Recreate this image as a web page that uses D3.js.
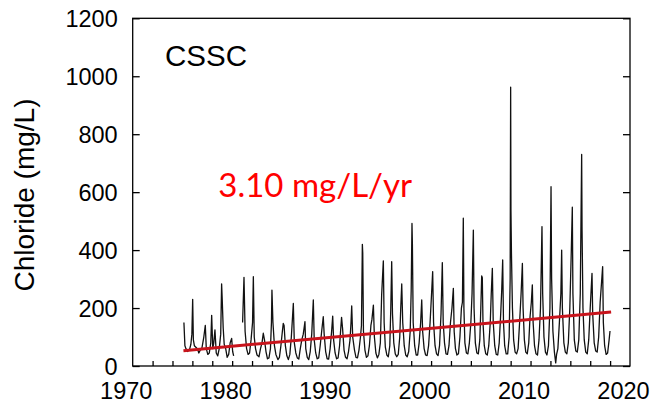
<!DOCTYPE html>
<html>
<head>
<meta charset="utf-8">
<script src="https://cdn.jsdelivr.net/npm/d3@7"></script>
<style>
  html, body { margin: 0; padding: 0; background: #fff; }
</style>
</head>
<body>
<div id="container"></div>
<script>
// data (decimal year, chloride mg/L); null = gap in record
let sampleYears = [
  1975.15, 1975.25, 1975.35, 1975.5, 1975.7, 1975.85, 1975.95,
  1976.03, 1976.1, 1976.2, 1976.35, 1976.5, 1976.65, 1976.8, 1976.95,
  1977.15, 1977.3, 1977.4, 1977.55, 1977.7, 1977.85, 1977.94,
  1978.05, 1978.15, 1978.27, 1978.4, 1978.55, 1978.7, 1978.85, 1978.94, 1979.0,
  1979.1, 1979.2, 1979.35, 1979.5, 1979.65, 1979.8, 1979.95, 1980.05, 1980.15,
  1980.6,
  1981.05, 1981.19, 1981.3, 1981.45, 1981.6, 1981.75, 1981.9, 1982.05,
  1982.13, 1982.22, 1982.35, 1982.5, 1982.7, 1982.85, 1983.0,
  1983.13, 1983.25, 1983.4, 1983.55, 1983.7, 1983.85, 1983.95,
  1984.0, 1984.1, 1984.25, 1984.4, 1984.6, 1984.75, 1984.9, 1985.05,
  1985.14, 1985.22, 1985.35, 1985.5, 1985.65, 1985.8, 1985.95,
  1986.15, 1986.25, 1986.4, 1986.55, 1986.7, 1986.85, 1987.0,
  1987.15, 1987.32, 1987.4, 1987.55, 1987.7, 1987.85, 1988.0,
  1988.16, 1988.25, 1988.4, 1988.55, 1988.7, 1988.85, 1989.0,
  1989.16, 1989.25, 1989.4, 1989.55, 1989.7, 1989.85, 1990.0,
  1990.11, 1990.2, 1990.35, 1990.5, 1990.65, 1990.8, 1990.92,
  1991.0, 1991.1, 1991.25, 1991.4, 1991.55, 1991.7, 1991.85, 1991.95,
  1992.02, 1992.12, 1992.3, 1992.45, 1992.6, 1992.75, 1992.9, 1993.0,
  1993.09, 1993.13, 1993.2, 1993.35, 1993.5, 1993.65, 1993.8, 1993.95,
  1994.05, 1994.2, 1994.3, 1994.45, 1994.6, 1994.75, 1994.9, 1995.03,
  1995.2, 1995.28, 1995.4, 1995.55, 1995.7, 1995.85, 1995.95,
  1996.04, 1996.12, 1996.25, 1996.4, 1996.55, 1996.7, 1996.85, 1996.95,
  1997.05, 1997.15, 1997.3, 1997.45, 1997.6, 1997.75, 1997.9, 1998.0,
  1998.08, 1998.12, 1998.2, 1998.35, 1998.5, 1998.65, 1998.8, 1998.95,
  1999.06, 1999.15, 1999.3, 1999.45, 1999.6, 1999.75, 1999.9, 2000.05,
  2000.16, 2000.25, 2000.4, 2000.55, 2000.7, 2000.85, 2001.0,
  2001.13, 2001.22, 2001.35, 2001.5, 2001.65, 2001.8, 2001.95, 2002.1,
  2002.24, 2002.32, 2002.45, 2002.6, 2002.75, 2002.9, 2003.05, 2003.15,
  2003.24, 2003.3, 2003.4, 2003.55, 2003.7, 2003.85, 2004.0, 2004.12,
  2004.25, 2004.32, 2004.45, 2004.6, 2004.75, 2004.9, 2005.0,
  2005.09, 2005.15, 2005.22, 2005.35, 2005.5, 2005.65, 2005.8, 2005.95, 2006.05,
  2006.16, 2006.25, 2006.4, 2006.55, 2006.7, 2006.85, 2007.0, 2007.1,
  2007.2, 2007.28, 2007.4, 2007.55, 2007.7, 2007.85, 2007.95,
  2008.0, 2008.03, 2008.08, 2008.18, 2008.3, 2008.45, 2008.6, 2008.75, 2008.9, 2009.05,
  2009.18, 2009.25, 2009.38, 2009.52, 2009.67, 2009.82, 2009.95, 2010.08,
  2010.18, 2010.26, 2010.4, 2010.55, 2010.7, 2010.85, 2011.0,
  2011.15, 2011.22, 2011.35, 2011.5, 2011.65, 2011.8, 2011.95,
  2012.06, 2012.12, 2012.25, 2012.4, 2012.53, 2012.62, 2012.75, 2012.9, 2013.05,
  2013.13, 2013.2, 2013.35, 2013.5, 2013.65, 2013.8, 2013.95, 2014.1,
  2014.2, 2014.26, 2014.4, 2014.55, 2014.7, 2014.85, 2015.0,
  2015.14, 2015.18, 2015.27, 2015.4, 2015.55, 2015.7, 2015.85, 2016.0,
  2016.18, 2016.25, 2016.4, 2016.55, 2016.7, 2016.85, 2017.0,
  2017.25, 2017.32, 2017.45, 2017.6, 2017.75, 2017.9, 2017.99
];
let chlorideValues = [
  150, 70, 60, 50, 55, 75, 110,
  230, 90, 70, 65, 60, 45, 55, 60,
  100, 140, 60, 40, 45, 80, 175,
  60, 80, 125, 45, 35, 60, 110, 283, 230,
  130, 75, 60, 30, 40, 80, 95, 50, 35,
  null,
  150, 306, 120, 60, 40, 45, 90, 150,
  308, 100, 60, 38, 32, 60, 80,
  113, 90, 50, 25, 28, 60, 150,
  262, 150, 70, 40, 22, 30, 70, 120,
  147, 140, 70, 35, 22, 40, 100,
  216, 80, 45, 28, 24, 60, 90,
  110, 153, 60, 30, 22, 50, 110,
  228, 90, 45, 25, 28, 70, 120,
  170, 110, 50, 25, 24, 60, 120,
  172, 90, 45, 25, 28, 70, 130,
  168, 130, 55, 30, 25, 50, 90, 150,
  207, 100, 55, 30, 28, 55, 100, 140,
  420, 390, 120, 55, 30, 35, 70, 140,
  160, 210, 100, 45, 28, 40, 80, 245,
  363, 150, 65, 38, 32, 70, 200,
  360, 180, 80, 42, 32, 40, 100, 200,
  283, 150, 70, 38, 32, 50, 120, 260,
  492, 423, 150, 70, 38, 38, 80, 150,
  228, 120, 60, 38, 36, 70, 150, 250,
  326, 150, 70, 42, 36, 70, 180,
  357, 150, 80, 42, 40, 70, 150, 200,
  268, 120, 60, 38, 42, 100, 200, 220,
  510, 200, 80, 45, 42, 80, 150, 250,
  469, 200, 80, 45, 42, 90, 200,
  311, 305, 150, 70, 42, 38, 70, 150, 250,
  337, 150, 70, 40, 38, 80, 180, 260,
  366, 150, 70, 42, 42, 100, 300,
  962, 538, 389, 200, 90, 48, 42, 60, 150, 250,
  354, 200, 90, 48, 42, 80, 170, 220,
  280, 150, 70, 42, 38, 90, 200,
  481, 250, 100, 48, 38, 70, 200,
  619, 300, 120, 48, 11, 40, 60, 150, 250,
  400, 200, 80, 48, 42, 80, 200, 400,
  548, 250, 90, 52, 48, 90, 250,
  730, 469, 200, 90, 48, 42, 90, 200,
  320, 180, 80, 52, 48, 100, 220,
  343, 150, 70, 40, 45, 90, 121
];
let trendYears = [1975.1, 2018.1];
let trendValues = [53, 186];
let yTicks = [0, 200, 400, 600, 800, 1000, 1200];
let xLabelYears = [1970, 1980, 1990, 2000, 2010, 2020];
let xMinorYears = d3.range(1972, 2020, 2);

let w = 652,
    h = 407;

let viz = d3.select('#container')
    .append('svg')
      .attr('width', w)
      .attr('height', h)
      .style('background', '#fff')
      .style('display', 'block');

let x = d3.scaleLinear().domain([1970, 2020]).range([132.7, 630]);
let y = d3.scaleLinear().domain([0, 1200]).range([366, 18.3]);

function main() {
    let font = '"Liberation Sans", Arial, sans-serif';

    // series line
    let pts = sampleYears.map((t, i) => [t, chlorideValues[i]]);
    let line = d3.line()
        .defined(d => d[1] != null)
        .x(d => x(d[0]))
        .y(d => y(d[1]));

    viz.append('path')
        .datum(pts)
        .attr('d', line)
        .attr('fill', 'none')
        .attr('stroke', '#111')
        .attr('stroke-width', 1.3)
        .attr('stroke-linejoin', 'round');

    // trend line
    let trend = trendYears.map((t, i) => [t, trendValues[i]]);
    viz.append('path')
        .datum(trend)
        .attr('d', d3.line().x(d => x(d[0])).y(d => y(d[1])))
        .attr('fill', 'none')
        .attr('stroke', '#c8141c')
        .attr('stroke-width', 3);

    // frame
    viz.append('rect')
        .attr('x', x(1970))
        .attr('y', y(1200))
        .attr('width', x(2020) - x(1970))
        .attr('height', y(0) - y(1200))
        .attr('fill', 'none')
        .attr('stroke', '#000')
        .attr('stroke-width', 1.3);

    // left axis
    let left = viz.append('g')
        .attr('transform', 'translate(' + x(1970) + ',0)')
        .call(d3.axisLeft(y).tickValues(yTicks).tickSize(-7).tickPadding(15).tickFormat(d3.format('d')));
    left.attr('font-family', font).attr('font-size', 23.5);
    left.select('.domain').remove();
    left.selectAll('line').attr('stroke', '#000').attr('stroke-width', 1.3);
    left.selectAll('text')
        .attr('fill', '#000')
        .attr('dy', '0.36em');

    // right axis ticks
    let right = viz.append('g')
        .attr('transform', 'translate(' + x(2020) + ',0)')
        .call(d3.axisRight(y).tickValues(yTicks).tickSize(-7).tickFormat(''));
    right.select('.domain').remove();
    right.selectAll('line').attr('stroke', '#000').attr('stroke-width', 1.3);

    // bottom minor ticks
    let bottom = viz.append('g')
        .attr('transform', 'translate(0,' + y(0) + ')')
        .call(d3.axisBottom(x).tickValues(xMinorYears).tickSize(-5).tickFormat(''));
    bottom.select('.domain').remove();
    bottom.selectAll('line').attr('stroke', '#000').attr('stroke-width', 1.3);

    // bottom labels
    let labels = viz.append('g')
        .attr('transform', 'translate(-7,' + y(0) + ')')
        .call(d3.axisBottom(x).tickValues(xLabelYears).tickSize(0).tickPadding(16).tickFormat(d3.format('d')));
    labels.attr('font-family', font).attr('font-size', 23.5);
    labels.select('.domain').remove();
    labels.selectAll('text').attr('fill', '#000');

    // y title
    viz.append('text')
        .attr('transform', 'translate(34,195) rotate(-90)')
        .attr('text-anchor', 'middle')
        .attr('font-family', font)
        .attr('font-size', 28)
        .attr('fill', '#000')
        .text('Chloride (mg/L)');

    viz.append('text')
        .attr('x', 165)
        .attr('y', 65.7)
        .attr('font-family', font)
        .attr('font-size', 29.5)
        .attr('fill', '#000')
        .text('CSSC');

    viz.append('text')
        .attr('x', 218.3)
        .attr('y', 196.7)
        .attr('font-family', 'Lato, "Open Sans", sans-serif')
        .attr('font-size', 33)
        .attr('fill', '#ff0000')
        .text('3.10 mg/L/yr');
}

main();
</script>
</body>
</html>
